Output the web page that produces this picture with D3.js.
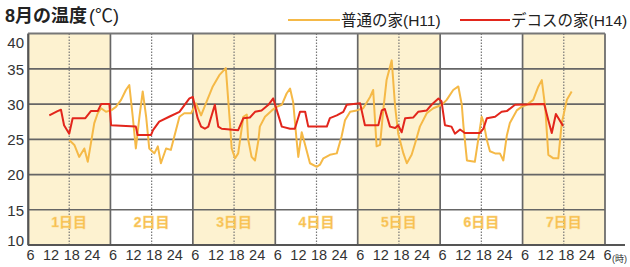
<!DOCTYPE html>
<html><head><meta charset="utf-8">
<script src="https://cdn.jsdelivr.net/npm/d3@7/dist/d3.min.js"></script>
<style>
body{margin:0;background:#fff;}
svg{display:block;}
text{font-family:"Liberation Sans","Noto Sans CJK JP",sans-serif;}
</style></head><body>
<svg id="c" width="630" height="267"></svg>
<script>
// hours counted from 6:00 of day 1
const days = ["1日目","2日目","3日目","4日目","5日目","6日目","7日目"];
const xTickLabels = ["6","12","18","24"];
const yTicks = [10,15,20,25,30,35,40];
const seriesNames = ["普通の家(H11)","デコスの家(H14)"];

const h11Hours = [12.0,13.5,14.9,16.4,17.4,18.3,19.3,20.3,21.3,22.7,24.2,25.6,27.1,28.5,29.5,30.5,31.4,32.4,33.4,34.4,35.3,36.8,37.8,38.7,40.2,41.6,42.6,44.1,45.5,47.5,48.9,50.4,51.8,53.8,55.7,57.6,58.8,59.3,60.3,61.2,62.7,63.7,64.1,65.1,66.1,67.1,67.5,69.0,71.0,72.4,73.9,75.3,76.3,77.2,78.2,78.7,79.7,80.7,82.1,84.1,85.0,86.0,87.9,89.9,91.3,92.3,93.8,95.7,97.6,99.6,100.5,101.5,102.5,103.4,104.4,105.9,106.9,107.8,109.3,110.3,111.7,112.7,114.1,116.1,118.0,120.5,121.9,123.8,125.3,126.3,126.8,127.8,130.1,131.1,132.1,132.6,133.6,134.5,136.0,137.4,138.4,139.4,140.3,142.3,143.7,145.2,147.1,148.6,149.6,150.6,151.5,153.0,154.4,155.4,156.9,158.3];
const h11Temps = [24.9,24.2,22.5,23.7,21.8,24.4,27.3,28.7,29.4,28.9,29.1,29.6,30.6,32.0,32.7,28.2,23.7,28.0,31.8,28.2,23.7,23.0,24.0,21.6,23.7,23.5,25.4,28.2,28.7,28.7,30.1,28.4,30.1,32.5,34.1,35.1,27.3,23.7,22.3,23.0,28.2,28.5,25.0,22.5,22.0,24.9,26.8,28.2,29.1,29.6,29.9,31.5,32.2,30.3,24.9,22.5,26.0,24.2,21.6,21.1,21.4,22.3,22.8,23.0,25.4,27.7,28.9,29.1,29.4,31.0,32.0,24.0,24.2,29.0,33.4,36.2,29.6,25.8,23.0,21.6,22.8,24.4,26.8,28.7,29.4,29.9,30.6,32.0,32.5,29.9,26.8,22.0,21.8,25.0,28.2,27.5,24.9,23.3,23.0,23.0,22.0,25.5,27.3,29.1,29.6,29.9,30.6,32.5,33.4,29.5,22.8,22.3,22.3,27.3,30.6,31.8];

const h14Hours = [6.2,8.6,9.6,10.5,12.0,13.0,16.7,18.3,20.3,21.3,23.7,24.2,31.4,31.9,35.8,36.4,38.2,41.1,44.1,47.0,48.0,49.4,50.4,51.5,52.5,54.4,55.4,56.4,61.2,62.7,64.6,66.1,68.0,70.0,71.4,72.9,73.9,76.3,77.7,79.2,80.7,81.6,87.0,87.9,89.9,91.8,92.8,96.7,98.1,102.0,103.0,103.9,105.4,106.9,107.8,108.8,109.8,112.2,113.6,116.1,117.5,119.5,120.4,121.4,123.3,124.3,125.8,127.2,131.6,132.6,133.6,136.0,137.9,139.4,141.8,150.3,151.5,152.5,153.7,155.8];
const h14Temps = [28.4,29.0,29.2,27.0,25.8,28.0,28.0,29.0,29.0,30.0,30.0,27.0,26.8,25.6,25.6,26.3,27.5,28.2,28.9,30.8,31.0,28.0,26.8,26.5,26.8,29.9,26.8,26.5,26.3,28.0,28.1,28.9,29.1,29.9,30.8,28.4,26.8,26.5,26.5,28.9,28.9,26.8,26.8,28.0,28.4,28.9,29.9,30.1,27.0,27.0,29.1,29.3,26.8,26.6,27.0,26.0,28.0,28.1,28.9,29.1,29.9,30.8,30.4,27.0,26.8,25.8,26.4,25.9,25.9,26.5,28.0,28.2,28.9,29.0,29.9,30.0,27.7,25.9,28.6,26.9];

const svg = d3.select("#c");
const L = 28, R = 605, T = 33.6, B = 245;
const x = d3.scaleLinear().domain([0, 168]).range([L, R]);
const y = d3.scaleLinear().domain([10, 40]).range([B, T]);
const dayIdx = d3.range(days.length);

// day shading
svg.append("g").selectAll("rect").data(dayIdx.filter(d => d % 2 === 0)).join("rect")
  .attr("x", d => x(d * 24)).attr("y", T).attr("width", x(24) - x(0)).attr("height", B - T)
  .attr("fill", "#fdf2d0");

// horizontal grid
svg.append("g").selectAll("line").data(yTicks.filter(v => v > 10 && v < 40)).join("line")
  .attr("x1", L).attr("x2", R).attr("y1", d => y(d)).attr("y2", d => y(d))
  .attr("stroke", "#666").attr("stroke-width", 1.7);

// dotted 18h lines
svg.append("g").selectAll("line").data(dayIdx).join("line")
  .attr("x1", d => x(d * 24 + 12)).attr("x2", d => x(d * 24 + 12))
  .attr("y1", T).attr("y2", B)
  .attr("stroke", "#777").attr("stroke-width", 1.2).attr("stroke-dasharray", "1.3,1.7");

// day boundaries
svg.append("g").selectAll("line").data(d3.range(days.length + 1)).join("line")
  .attr("x1", d => x(d * 24)).attr("x2", d => x(d * 24))
  .attr("y1", T).attr("y2", B)
  .attr("stroke", "#666").attr("stroke-width", 1.7);

// top & bottom border
svg.append("line").attr("x1", L).attr("x2", R).attr("y1", T).attr("y2", T)
  .attr("stroke", "#777").attr("stroke-width", 2);
svg.append("line").attr("x1", L).attr("x2", R + 20).attr("y1", B).attr("y2", B)
  .attr("stroke", "#555").attr("stroke-width", 1.8);

// day labels
svg.append("g").selectAll("text").data(dayIdx).join("text")
  .attr("x", d => x(d * 24 + 12)).attr("y", 227)
  .attr("text-anchor", "middle")
  .attr("font-family", "'Noto Sans CJK JP'").attr("font-weight", "bold").attr("font-size", 14)
  .attr("fill", "#f7bc4a").attr("stroke", "#fbd98a").attr("stroke-width", 0.5)
  .text(d => days[d]);

// lines
const line = d3.line().x(d => x(d[0])).y(d => y(d[1]));
svg.append("path").datum(h11Hours.map((h, i) => [h, h11Temps[i]]))
  .attr("d", line).attr("fill", "none").attr("stroke", "#f5b947").attr("stroke-width", 2).attr("stroke-linejoin", "round");
svg.append("path").datum(h14Hours.map((h, i) => [h, h14Temps[i]]))
  .attr("d", line).attr("fill", "none").attr("stroke", "#e2261c").attr("stroke-width", 2).attr("stroke-linejoin", "round");

// y axis
const ya = svg.append("g").attr("transform", `translate(${L},0)`)
  .call(d3.axisLeft(y).tickValues(yTicks).tickSize(0).tickPadding(4));
ya.select(".domain").attr("stroke", "#555").attr("stroke-width", 1.8);
ya.selectAll("text").attr("font-size", 15).attr("fill", "#333")
  .attr("font-family", "'Liberation Sans Narrow','Liberation Sans',sans-serif")
  .attr("dy", d => d === 40 ? "0.95em" : d === 10 ? "0.05em" : "0.35em");

// x axis
const xTickVals = [];
dayIdx.forEach(d => [0, 6, 12, 18].forEach(h => xTickVals.push(d * 24 + h)));
xTickVals.push(168);
const xa = svg.append("g").attr("transform", `translate(0,${B})`)
  .call(d3.axisBottom(x).tickValues(xTickVals).tickSize(0).tickPadding(5)
    .tickFormat(v => v === 168 ? "6" : xTickLabels[(v % 24) / 6]));
xa.select(".domain").remove();
xa.selectAll("text").attr("font-size", 14.5).attr("fill", "#333")
  .attr("font-family", "'Liberation Sans Narrow','Liberation Sans',sans-serif")
  .attr("dx", 2);
svg.append("text").attr("x", x(168) + 7).attr("y", 262).attr("font-size", 9)
  .attr("font-family", "'Noto Sans CJK JP'").attr("fill", "#333").text("(時)");

// title
const t = svg.append("text").attr("x", 5).attr("y", 22).attr("fill", "#222")
  .attr("font-family", "'Noto Sans CJK JP'");
t.append("tspan").attr("font-size", 18).attr("font-weight", "bold").text("8月の温度");
t.append("tspan").attr("font-size", 18).attr("dx", 2).text("(℃)");

// legend
const lg = [{c: "#f5b947", x1: 288, x2: 340, tx: 341}, {c: "#e2261c", x1: 460, x2: 510, tx: 511}];
lg.forEach((d, i) => {
  svg.append("line").attr("x1", d.x1).attr("x2", d.x2).attr("y1", 20).attr("y2", 20)
    .attr("stroke", d.c).attr("stroke-width", 2);
  svg.append("text").attr("x", d.tx).attr("y", 26).attr("font-size", 15.5)
    .attr("font-family", "'Noto Sans CJK JP'").attr("fill", "#222").text(seriesNames[i]);
});
</script></body></html>
